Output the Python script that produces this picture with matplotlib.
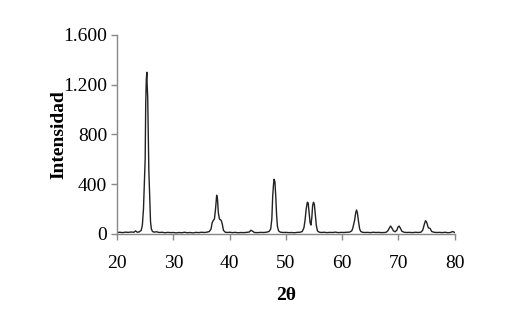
import matplotlib.pyplot as plt
from matplotlib.ticker import FixedLocator

plt.rcParams['font.family'] = ['Liberation Serif', 'DejaVu Serif']

dos_theta = [20.0, 20.5, 21.0, 21.5, 22.0, 22.5, 23.0, 23.3, 23.6, 24.0,
             24.3, 24.5, 24.7, 24.85, 25.0, 25.1, 25.2, 25.3, 25.35, 25.45,
             25.55, 25.65, 25.8, 25.95, 26.1, 26.3, 26.6, 27.0, 27.5, 28.0,
             28.5, 29.0, 29.5, 30.0, 30.5, 31.0, 31.5, 32.0, 32.5, 33.0,
             33.5, 34.0, 34.5, 35.0, 35.5, 36.0, 36.4, 36.7, 36.9, 37.1,
             37.3, 37.5, 37.7, 37.85, 38.0, 38.2, 38.5, 38.7, 38.9, 39.2,
             39.6, 40.0, 40.5, 41.0, 41.5, 42.0, 42.5, 43.0, 43.5, 43.8,
             44.1, 44.4, 45.0, 45.5, 46.0, 46.5, 47.0, 47.3, 47.5, 47.65,
             47.8, 47.9, 48.05, 48.2, 48.35, 48.5, 48.7, 49.0, 49.5, 50.0,
             50.5, 51.0, 51.5, 52.0, 52.5, 52.9, 53.2, 53.4, 53.6, 53.8,
             53.95, 54.1, 54.3, 54.45, 54.6, 54.75, 54.9, 55.05, 55.2, 55.4,
             55.6, 55.9, 56.3, 56.8, 57.3, 57.8, 58.3, 58.8, 59.3, 59.8,
             60.3, 60.8, 61.3, 61.7, 61.9, 62.2, 62.4, 62.55, 62.7, 62.9,
             63.1, 63.3, 63.6, 64.0, 64.5, 65.0, 65.5, 66.0, 66.5, 67.0,
             67.5, 67.8, 68.1, 68.4, 68.6, 68.8, 69.1, 69.4, 69.7, 69.9,
             70.1, 70.3, 70.6, 71.0, 71.5, 72.0, 72.5, 73.0, 73.5, 74.0,
             74.3, 74.6, 74.8, 75.0, 75.3, 75.6, 75.9, 76.3, 76.8, 77.3,
             77.8, 78.3, 78.8, 79.3, 79.6, 80.0]
intensidad = [12, 14, 11, 15, 13, 16, 14, 25, 14, 18,
              30, 70, 200, 410, 600, 1050, 1240, 1300, 1200, 1100,
              800, 515, 300, 100, 40, 20, 15, 18, 12, 14,
              10, 13, 11, 12, 9, 12, 10, 14, 10, 12,
              9, 13, 11, 14, 12, 15, 20, 40, 90, 110,
              120, 200, 312, 280, 170, 120, 110, 80, 30, 15,
              12, 14, 11, 13, 10, 12, 11, 13, 16, 30,
              22, 12, 11, 13, 12, 14, 20, 40, 120, 300,
              400, 440, 420, 300, 150, 60, 25, 15, 12, 13,
              11, 12, 10, 13, 14, 20, 50, 110, 200, 255,
              250, 180, 90, 72, 130, 230, 255, 240, 170, 70,
              25, 15, 12, 14, 11, 13, 12, 15, 11, 13,
              12, 14, 15, 25, 50, 110, 170, 193, 170, 100,
              40, 20, 14, 12, 13, 11, 14, 12, 13, 11,
              12, 14, 25, 50, 64, 50, 25, 18, 30, 55,
              64, 50, 22, 14, 12, 13, 11, 14, 12, 15,
              30, 80, 107, 95, 50, 45, 20, 14, 12, 13,
              11, 14, 10, 13, 20, 12]

y_ticks = [0, 400, 800, 1200, 1600]
y_labels = ["0", "400", "800", "1.200", "1.600"]
x_ticks = [20, 30, 40, 50, 60, 70, 80]

fig = plt.figure(figsize=(5.11, 3.12), dpi=100)
ax = fig.add_axes([0.229, 0.25, 0.661, 0.638])

ax.plot(dos_theta, intensidad, color="#222222", linewidth=1.0)

ax.set_xlim(20, 80)
ax.set_ylim(0, 1600)
ax.xaxis.set_major_locator(FixedLocator(x_ticks))
ax.set_yticks(y_ticks)
ax.set_yticklabels(y_labels)

for lado in ["top", "right"]:
    ax.spines[lado].set_visible(False)
for lado in ["left", "bottom"]:
    ax.spines[lado].set_color("#888888")
    ax.spines[lado].set_linewidth(1.0)

ax.tick_params(axis="both", direction="out", length=4, width=1,
               color="#888888", labelsize=14, pad=3)
ax.tick_params(axis="x", pad=11)

ax.set_xlabel("2θ", fontsize=14, fontweight="bold", labelpad=11)
ax.set_ylabel("Intensidad", fontsize=14, fontweight="bold", labelpad=-3)

fig.savefig("out.png", dpi=100)
